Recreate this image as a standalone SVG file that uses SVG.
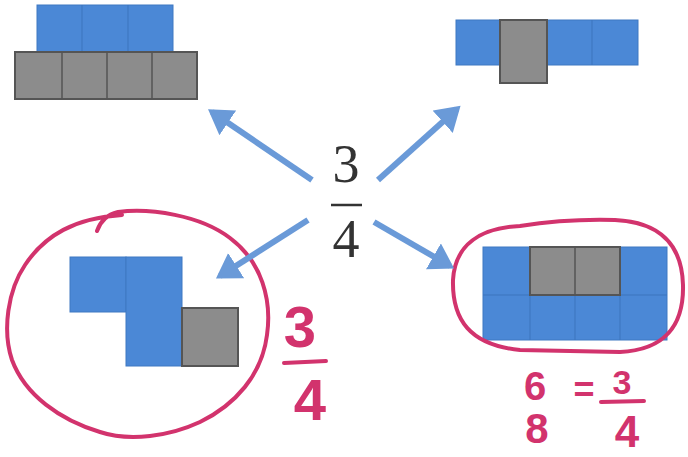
<svg xmlns="http://www.w3.org/2000/svg" width="688" height="457" viewBox="0 0 688 457">
<style>
.b{fill:#4b88d6;stroke:#3f78c2;stroke-width:1}
.g{fill:#8c8c8c;stroke:#555;stroke-width:2}
.gl{stroke:#555;stroke-width:1.5}
.bl{stroke:#3d74bd;stroke-width:1}
.arrow{stroke:#6a9ad8;stroke-width:6;fill:none;marker-end:url(#ah)}
.pen{fill:none;stroke:#d2336d;stroke-width:4;stroke-linecap:round;stroke-linejoin:round}
.hw{font-family:"Liberation Sans","DejaVu Sans",sans-serif;fill:#d2336d;font-weight:bold}
.pr{font-family:"Liberation Serif","DejaVu Serif",serif;fill:#333;font-size:54px}
</style>
<defs>
<marker id="ah" markerWidth="5" markerHeight="5" refX="3.2" refY="2.5" orient="auto" markerUnits="strokeWidth">
<path d="M0,0 L4,2.5 L0,5 Z" fill="#6a9ad8"/>
</marker>
</defs>
<rect width="688" height="457" fill="#fff"/>

<g id="topLeft">
<rect class="b" x="37" y="5" width="136" height="47"/>
<line class="bl" x1="82" y1="5" x2="82" y2="52"/>
<line class="bl" x1="128" y1="5" x2="128" y2="52"/>
<rect class="g" x="15" y="52" width="182" height="47"/>
<line class="gl" x1="62" y1="52" x2="62" y2="99"/>
<line class="gl" x1="107" y1="52" x2="107" y2="99"/>
<line class="gl" x1="152" y1="52" x2="152" y2="99"/>
</g>

<g id="topRight">
<rect class="b" x="456" y="20" width="182" height="45"/>
<line class="bl" x1="592" y1="20" x2="592" y2="65"/>
<rect class="g" x="500" y="20" width="47" height="63"/>
</g>

<g id="center">
<text class="pr" x="346" y="182" text-anchor="middle">3</text>
<line x1="331" y1="205" x2="362" y2="205" stroke="#333" stroke-width="2.5"/>
<text class="pr" x="346" y="257" text-anchor="middle">4</text>
</g>

<g id="bottomLeft">
<rect class="b" x="70" y="257" width="56" height="55"/>
<rect class="b" x="126" y="257" width="56" height="109"/>
<rect class="g" x="182" y="308" width="56" height="58"/>
<path class="pen" d="M97,231 C100,222 106,215 118,212 C150,208 200,215 230,238 C262,262 272,300 267,335 C262,375 235,405 200,422 C170,436 130,442 100,432 C60,420 25,395 12,360 C2,330 8,290 25,265 C45,235 75,218 122,215"/>
<text class="hw" x="300" y="347" font-size="58" text-anchor="middle">3</text>
<path class="pen" d="M284,363 L326,361"/>
<text class="hw" x="310" y="420" font-size="58" text-anchor="middle">4</text>
</g>

<g id="bottomRight">
<rect class="b" x="483" y="247" width="184" height="93"/>
<line class="bl" x1="483" y1="295" x2="667" y2="295"/>
<line class="bl" x1="530" y1="295" x2="530" y2="340"/>
<line class="bl" x1="575" y1="295" x2="575" y2="340"/>
<line class="bl" x1="620" y1="295" x2="620" y2="340"/>
<rect class="g" x="530" y="247" width="90" height="48"/>
<line class="gl" x1="575" y1="247" x2="575" y2="295"/>
<path class="pen" d="M520,226 C480,228 455,245 453,280 C452,320 470,345 520,350 L620,352 C665,350 684,325 683,285 C682,245 660,222 615,220 C580,219 545,222 520,226 Z"/>
<text class="hw" x="535" y="400" font-size="40" text-anchor="middle">6</text>
<text class="hw" x="584" y="402" font-size="36" text-anchor="middle">=</text>
<text class="hw" x="622" y="394" font-size="34" text-anchor="middle">3</text>
<path class="pen" d="M601,402 L644,401"/>
<text class="hw" x="537" y="443" font-size="42" text-anchor="middle">8</text>
<text class="hw" x="627" y="447" font-size="44" text-anchor="middle">4</text>
</g>

<g id="connectors">
<line class="arrow" x1="312" y1="180" x2="212" y2="112"/>
<line class="arrow" x1="378" y1="180" x2="457" y2="109"/>
<line class="arrow" x1="308" y1="220" x2="220" y2="276"/>
<line class="arrow" x1="374" y1="222" x2="450" y2="266"/>
</g>
</svg>
